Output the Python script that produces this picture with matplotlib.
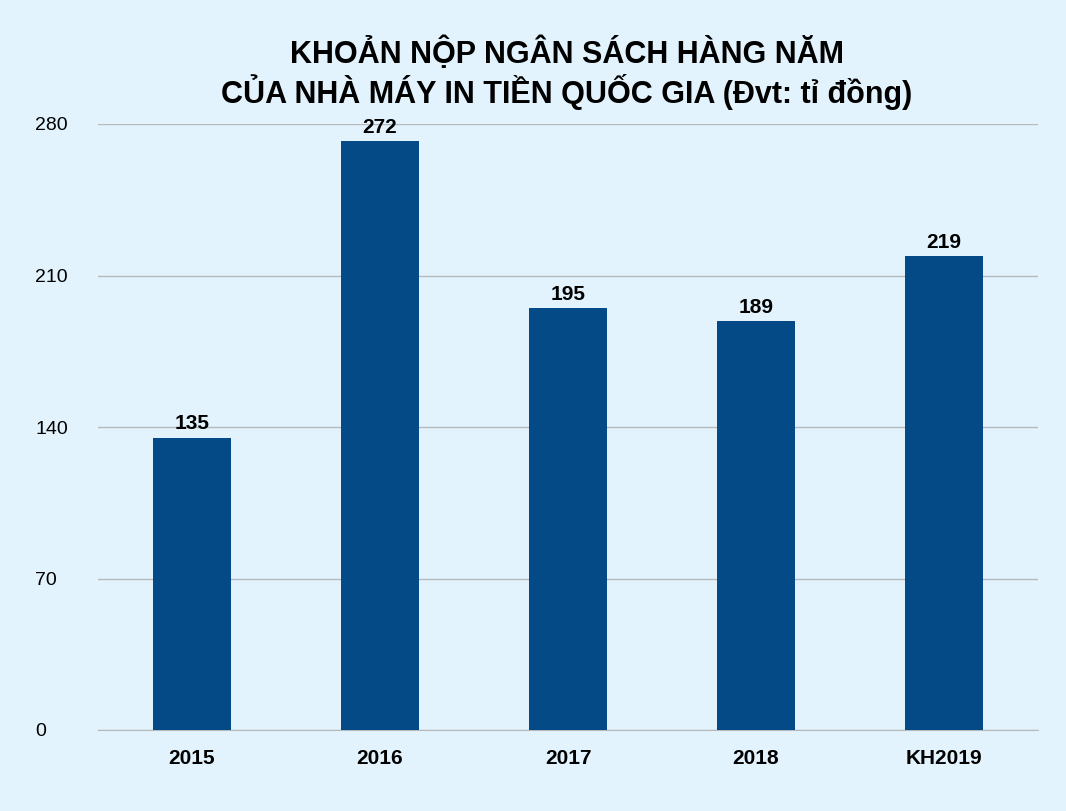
import matplotlib
matplotlib.use("Agg")
import matplotlib.pyplot as plt

categories = ["2015", "2016", "2017", "2018", "KH2019"]
values = [135, 272, 195, 189, 219]
yticks = [0, 70, 140, 210, 280]

plt.rcParams['font.family'] = ['Liberation Sans', 'DejaVu Sans']
bg = "#E3F3FD"
fig = plt.figure(figsize=(10.66, 8.11), dpi=100, facecolor=bg)
ax = fig.add_axes([98/1066, 1-730/811, 940/1066, (730-124)/811], facecolor=bg)
x = range(len(categories))
bars = ax.bar(x, values, width=0.415, color="#034A86", zorder=3)
for xi, v in zip(x, values):
    ax.text(xi, v + 2, str(v), ha="center", va="bottom", fontsize=15, fontweight="bold", color="black", zorder=4)
ax.set_xlim(-0.5, 4.5)
ax.set_ylim(0, 280)
ax.set_yticks(yticks)
ax.set_yticklabels([str(t) for t in yticks], fontsize=14)
ax.set_xticks(list(x))
ax.set_xticklabels(categories, fontsize=15, fontweight="bold")
ax.grid(axis="y", color="#B5B9BC", linewidth=1, zorder=0)
for s in ["top", "right", "left"]:
    ax.spines[s].set_visible(False)
ax.spines["bottom"].set_color("#B5B9BC")
ax.tick_params(axis="both", length=0)
ax.tick_params(axis="y", pad=45)
for lab in ax.get_yticklabels():
    lab.set_horizontalalignment("left")
ax.tick_params(axis="x", pad=14)
fig.text(0.532, 0.955, "KHOẢN NỘP NGÂN SÁCH HÀNG NĂM\nCỦA NHÀ MÁY IN TIỀN QUỐC GIA (Đvt: tỉ đồng)",
         ha="center", va="top", fontsize=22, fontweight="bold", linespacing=1.15)
fig.savefig("out.png", dpi=100, facecolor=bg)
